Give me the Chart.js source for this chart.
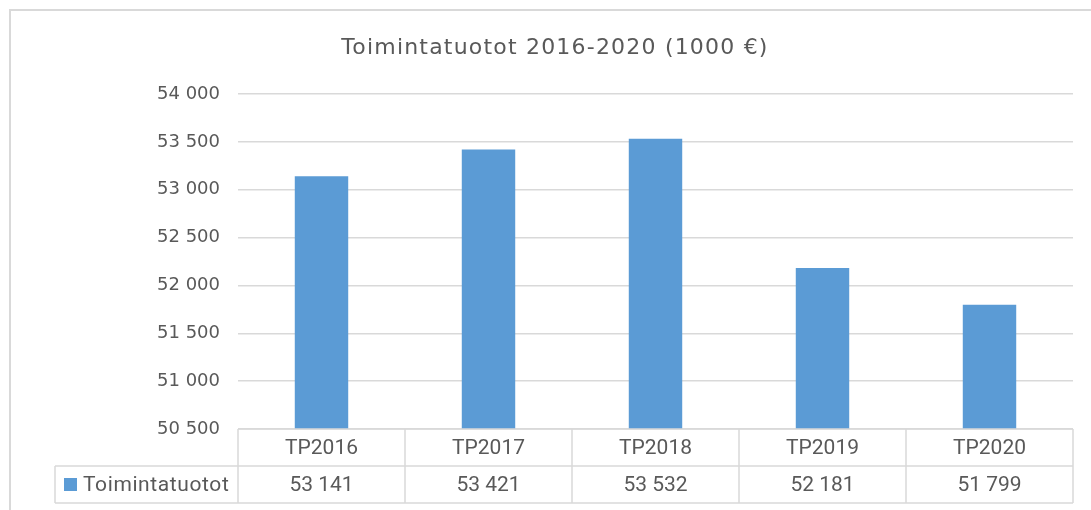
<!DOCTYPE html>
<html>
<head>
<meta charset="utf-8">
<script src="https://cdn.jsdelivr.net/npm/chart.js@4/dist/chart.umd.min.js"></script>
<style>
  body { margin: 0; background: #fff; }
</style>
</head>
<body>
<canvas id="chartCanvas" width="1091" height="510"></canvas>
<script>
const categories = ['TP2016', 'TP2017', 'TP2018', 'TP2019', 'TP2020'];
const seriesName = 'Toimintatuotot';
const values = [53141, 53421, 53532, 52181, 51799];
const titleText = 'Toimintatuotot 2016-2020 (1000 €)';

const textColor = '#595959';
const lineColor = '#d9d9d9';
const barColor = '#5b9bd5';

// "53141" -> "53 141"
const fmt = v => String(v).replace(/\B(?=(\d{3})+(?!\d))/g, ' ');

const tablePlugin = {
    id: 'dataTable',
    afterDraw(chart) {
        const ctx = chart.ctx;
        const x = chart.scales.x;
        const area = chart.chartArea;
        const n = categories.length;
        const step = (area.right - area.left) / n;
        const top = area.bottom;
        const mid = top + 37;
        const bottom = mid + 37;
        const legendLeft = 55;

        ctx.save();

        // outer frame
        ctx.strokeStyle = lineColor;
        ctx.lineWidth = 2;
        ctx.strokeRect(10, 10, 1200, 700);

        // title
        ctx.fillStyle = textColor;
        ctx.font = '22px "DejaVu Sans"';
        ctx.letterSpacing = '1.2px';
        ctx.textAlign = 'center';
        ctx.textBaseline = 'middle';
        ctx.fillText(titleText, 555, 48);
        ctx.letterSpacing = '0px';

        // table grid
        ctx.strokeStyle = lineColor;
        ctx.lineWidth = 1.5;
        ctx.beginPath();
        ctx.moveTo(area.left, top); ctx.lineTo(area.right, top);
        ctx.moveTo(legendLeft, mid); ctx.lineTo(area.right, mid);
        ctx.moveTo(legendLeft, bottom); ctx.lineTo(area.right, bottom);
        ctx.moveTo(legendLeft, mid); ctx.lineTo(legendLeft, bottom);
        for (let i = 0; i <= n; i++) {
            const cx = area.left + i * step;
            ctx.moveTo(cx, top); ctx.lineTo(cx, bottom);
        }
        ctx.stroke();

        // table texts
        ctx.fillStyle = textColor;
        ctx.font = '21px Roboto';
        ctx.textAlign = 'center';
        categories.forEach((c, i) => {
            const cx = x.getPixelForValue(i);
            ctx.fillText(c, cx, (top + mid) / 2 + 1);
            ctx.fillText(fmt(values[i]), cx, (mid + bottom) / 2 + 1);
        });

        // legend key
        ctx.fillStyle = barColor;
        ctx.fillRect(64, (mid + bottom) / 2 - 6.5, 13, 13);
        ctx.fillStyle = textColor;
        ctx.textAlign = 'left';
        ctx.letterSpacing = '0.6px';
        ctx.fillText(seriesName, 83, (mid + bottom) / 2 + 1);

        ctx.restore();
    }
};

const ctx = document.getElementById('chartCanvas').getContext('2d');

const chart = new Chart(ctx, {
    type: 'bar',
    data: {
        labels: categories,
        datasets: [{
            label: seriesName,
            data: values,
            backgroundColor: barColor,
            categoryPercentage: 1.0,
            barPercentage: 0.32
        }]
    },
    options: {
        responsive: false,
        animation: false,
        layout: {
            padding: { top: 94, right: 18, bottom: 81, left: 0 }
        },
        plugins: {
            legend: { display: false },
            title: { display: false },
            tooltip: { enabled: false }
        },
        scales: {
            x: {
                display: false
            },
            y: {
                min: 50500,
                max: 54000,
                afterFit(scale) { scale.width = 238; },
                border: { display: false },
                grid: {
                    color: lineColor,
                    lineWidth: 1.5,
                    drawTicks: false
                },
                ticks: {
                    stepSize: 500,
                    padding: 18,
                    color: textColor,
                    font: { family: 'DejaVu Sans', size: 18 },
                    callback: v => fmt(v)
                }
            }
        }
    },
    plugins: [tablePlugin]
});
</script>
</body>
</html>
